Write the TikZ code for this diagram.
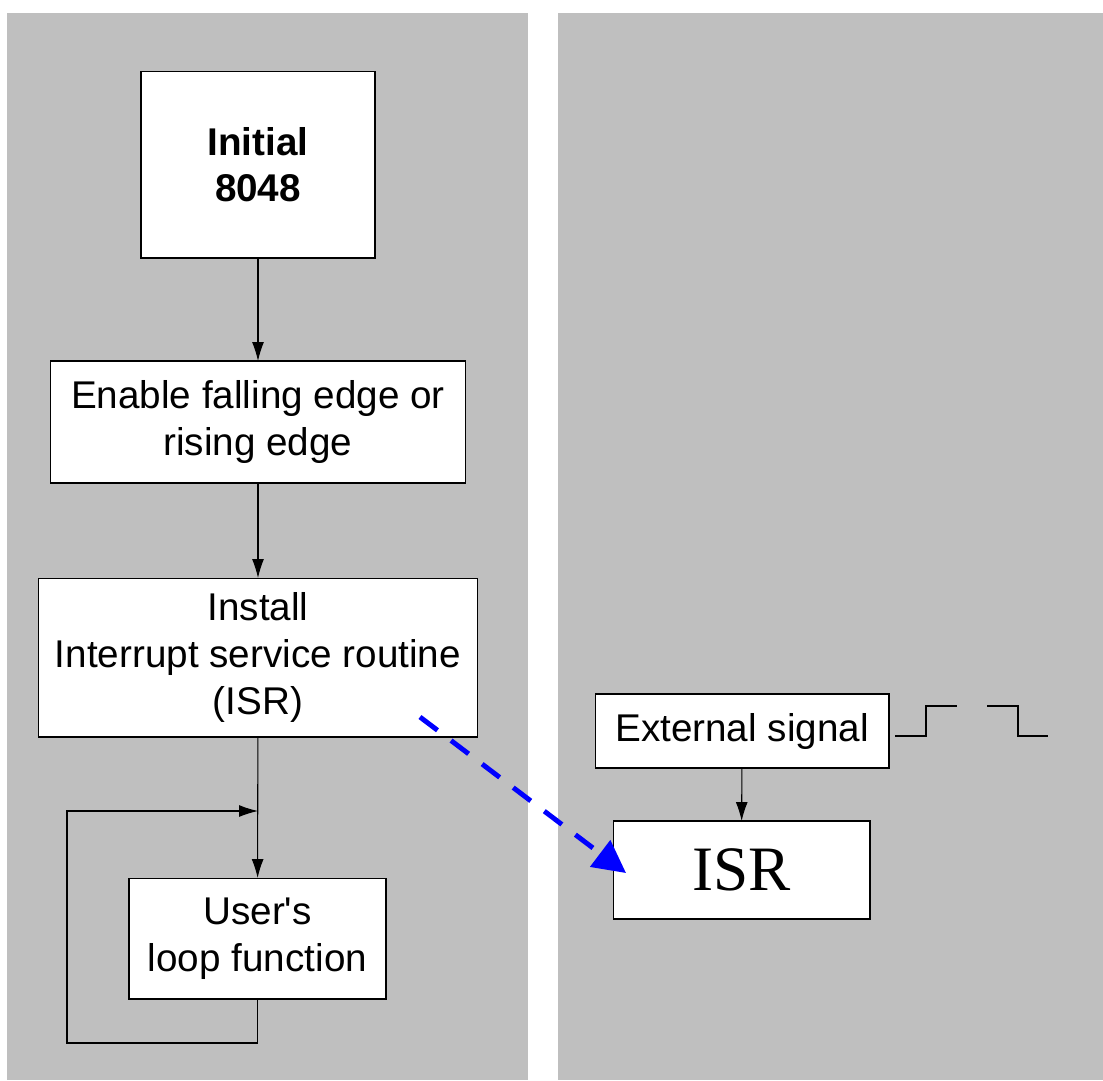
\documentclass[tikz,border=0pt]{standalone}
\usepackage{fontspec}
\setmainfont{Liberation Sans}[Ligatures=TeXOff]
\newfontfamily\isrfont{Liberation Serif}
\usetikzlibrary{arrows.meta,calc}

\begin{document}
\begin{tikzpicture}[x=0.02cm, y=-0.02cm,
    box/.style={draw=black, line width=0.6pt, fill=white, align=center,
      inner sep=0pt, outer sep=0pt, font=\fontsize{22}{26.5}\selectfont},
    flow/.style={-{Latex[length=3.8mm,width=2.4mm]}, line width=0.6pt},
    isrlink/.style={-{Triangle[length=6.5mm,width=6.5mm]}, blue, line width=2.8pt,
      dash pattern=on 4.4mm off 3.4mm}]
  \useasboundingbox (0,0) rectangle (1103,1080);
  % the two panels
  \fill[black!25] (7,13) rectangle (528,1080);
  \fill[black!25] (558,13) rectangle (1103,1080);

  % main program
  \node[box, minimum width=4.68cm, minimum height=3.74cm] (init) at (258,164.5)
    {\bfseries Initial\\\bfseries 8048};
  \node[box, minimum width=8.32cm, minimum height=2.44cm] (enable) at (258,422)
    {Enable falling edge or\\rising edge};
  \node[box, minimum width=8.8cm, minimum height=3.18cm] (install) at (258,657.5)
    {Install\\Interrupt service routine\\(ISR)};
  \node[box, minimum width=5.14cm, minimum height=2.42cm] (loop) at (257.5,938.5)
    {User's\\loop function};
  \coordinate (loopin) at (258,811);
  \coordinate (loopturn) at (67,1043);

  \draw[flow] (init) -- (enable);
  \draw[flow] (enable) -- (install);
  \draw[flow] (install) -- (loop);
  \draw[flow] (loop.south) |- (loopturn) |- (loopin);

  % interrupt side
  \node[box, minimum width=5.88cm, minimum height=1.48cm] (extsig) at (742,731)
    {External signal};
  \node[box, minimum width=5.14cm, minimum height=1.96cm] (isr) at (741.5,870)
    {\isrfont\fontsize{36}{40}\selectfont ISR};
  \draw[flow] (extsig) -- (isr);

  % edge waveform
  \draw[line width=0.6pt] (895,736) -- (926,736) -- (926,706) -- (957,706);
  \draw[line width=0.6pt] (987,706) -- (1018,706) -- (1018,736) -- (1048,736);

  \draw[isrlink] ($(install.south east)+(-58,-20)$) -- ($(isr.north west)+(13,52)$);
\end{tikzpicture}
\end{document}
